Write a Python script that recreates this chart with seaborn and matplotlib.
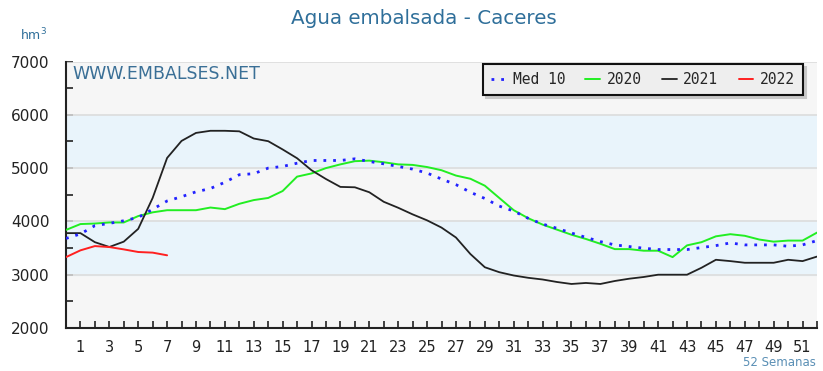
import numpy as np
import pandas as pd
import matplotlib
matplotlib.use("Agg")
import matplotlib.pyplot as plt
import seaborn as sns

# semanas (posicion 0..52) y series
semanas = list(range(53))
med_10 = [3680, 3765, 3920, 3963, 4012, 4074, 4228, 4383, 4463, 4555, 4617, 4734, 4876,
          4895, 5000, 5031, 5092, 5143, 5143, 5143, 5174, 5124, 5080, 5031, 4981, 4907,
          4795, 4690, 4547, 4430, 4287, 4194, 4058, 3950, 3870, 3782, 3700, 3621, 3559,
          3528, 3497, 3472, 3472, 3472, 3509, 3546, 3596, 3559, 3559, 3559, 3534, 3559, 3640]
serie_2020 = [3840, 3950, 3960, 3980, 3980, 4100, 4170, 4210, 4210, 4210, 4260, 4230, 4330,
              4400, 4440, 4570, 4840, 4900, 5000, 5070, 5130, 5140, 5110, 5070, 5060, 5020,
              4960, 4860, 4800, 4670, 4440, 4210, 4060, 3940, 3845, 3750, 3670, 3580, 3480,
              3480, 3450, 3450, 3330, 3550, 3610, 3720, 3760, 3730, 3660, 3620, 3640, 3640, 3790]
serie_2021 = [3780, 3780, 3610, 3520, 3620, 3860, 4440, 5190, 5510, 5660, 5700, 5700, 5690,
              5555, 5505, 5350, 5185, 4960, 4795, 4647, 4640, 4547, 4368, 4256, 4132, 4020,
              3884, 3698, 3388, 3140, 3047, 2985, 2942, 2910, 2863, 2826, 2845, 2826, 2882,
              2925, 2957, 3000, 3000, 3000, 3130, 3280, 3255, 3224, 3224, 3224, 3280, 3255, 3340]
serie_2022 = [3330, 3457, 3537, 3519, 3475, 3426, 3414, 3364]

etiquetas_x = list(range(1, 52, 2))
ticks_y = [2000, 3000, 4000, 5000, 6000, 7000]

sns.set_theme(style="white")
plt.rcParams['font.family'] = ['DejaVu Sans']
plt.rcParams['xtick.bottom'] = True
plt.rcParams['ytick.left'] = True

fig = plt.figure(figsize=(8.23, 3.71), dpi=100, facecolor="white")
ax = fig.add_axes([66 / 823, 43 / 371, 751 / 823, 266.5 / 371])

# fondo con bandas
ax.set_facecolor("#f6f6f6")
for baixo, alto in [(3000, 4000), (5000, 6000)]:
    ax.axhspan(baixo, alto, color="#e9f4fb", zorder=0)
for y in ticks_y[1:]:
    ax.axhline(y, color="#dcdcdc", linewidth=1.2, zorder=1)

df_med = pd.DataFrame({"semana": semanas, "valor": med_10})
df_20 = pd.DataFrame({"semana": semanas, "valor": serie_2020})
df_21 = pd.DataFrame({"semana": semanas, "valor": serie_2021})
df_22 = pd.DataFrame({"semana": semanas[:len(serie_2022)], "valor": serie_2022})

sns.lineplot(data=df_20, x="semana", y="valor", color="#22ee22", linewidth=1.4, ax=ax, label="2020", zorder=3)
sns.lineplot(data=df_21, x="semana", y="valor", color="#222222", linewidth=1.3, ax=ax, label="2021", zorder=3)
sns.lineplot(data=df_22, x="semana", y="valor", color="#ff2020", linewidth=1.4, ax=ax, label="2022", zorder=3)
sns.lineplot(data=df_med, x="semana", y="valor", color="#2222ff", linewidth=2.0,
             linestyle=(0, (1, 2.5)), ax=ax, label="Med 10", zorder=4)

ax.set_xlim(0, 52)
ax.set_ylim(2000, 7000)
ax.set_xlabel("")
ax.set_ylabel("")

# bordes: arriba y derecha sin linea, izquierda y abajo oscuros
for lado in ["top", "right"]:
    ax.spines[lado].set_linewidth(0)
for lado in ["left", "bottom"]:
    ax.spines[lado].set_edgecolor("#222222")
    ax.spines[lado].set_linewidth(1.5)

# leyenda
handles, labels = ax.get_legend_handles_labels()
orden = [labels.index(n) for n in ["Med 10", "2020", "2021", "2022"]]
leg = ax.legend([handles[i] for i in orden], [labels[i] for i in orden], ncol=4,
                loc="upper right", bbox_to_anchor=(0.981, 0.99), borderaxespad=0,
                fancybox=False, shadow={"color": "#c8c8c8", "alpha": 1}, frameon=True,
                handlelength=1.0, columnspacing=1.4, handletextpad=0.45, borderpad=0.55,
                prop={"family": "DejaVu Sans Mono", "size": 10.5})
leg.get_frame().set_facecolor("#eeeeee")
leg.get_frame().set_edgecolor("#111111")
leg.get_frame().set_linewidth(1.5)
leg.get_frame().set_alpha(1)

azul_texto = "#2f6f9a"
fig.text(424 / 823, 1 - 18 / 371, "Agua embalsada - Caceres", ha="center", va="center",
         fontsize=14.3, color=azul_texto)
fig.text(20 / 823, 1 - 35 / 371, "hm$^3$", ha="left", va="center", fontsize=9, color=azul_texto)
ax.text(0.009, 0.985, "WWW.EMBALSES.NET", transform=ax.transAxes, ha="left", va="top",
        fontsize=12.5, color="#3a6f96")
fig.text(816 / 823, 1 - 362 / 371, "52 Semanas", ha="right", va="center", fontsize=8.5,
         color="#5a8fb5")

ax.set_xticks(etiquetas_x)
ax.set_xticks(range(0, 53), minor=True)
ax.set_yticks(ticks_y)
ax.set_yticks(range(2000, 7001, 500), minor=True)
ax.tick_params(axis="x", which="both", bottom=True, direction="in", length=5, width=1.2,
               color="#222222", labelsize=10.5, pad=9, labelcolor="#222222")
ax.tick_params(axis="y", which="both", left=True, direction="in", length=5, width=1.2,
               color="#222222", labelsize=11, pad=12, labelcolor="#222222")

plt.savefig("out.png", dpi=100)
